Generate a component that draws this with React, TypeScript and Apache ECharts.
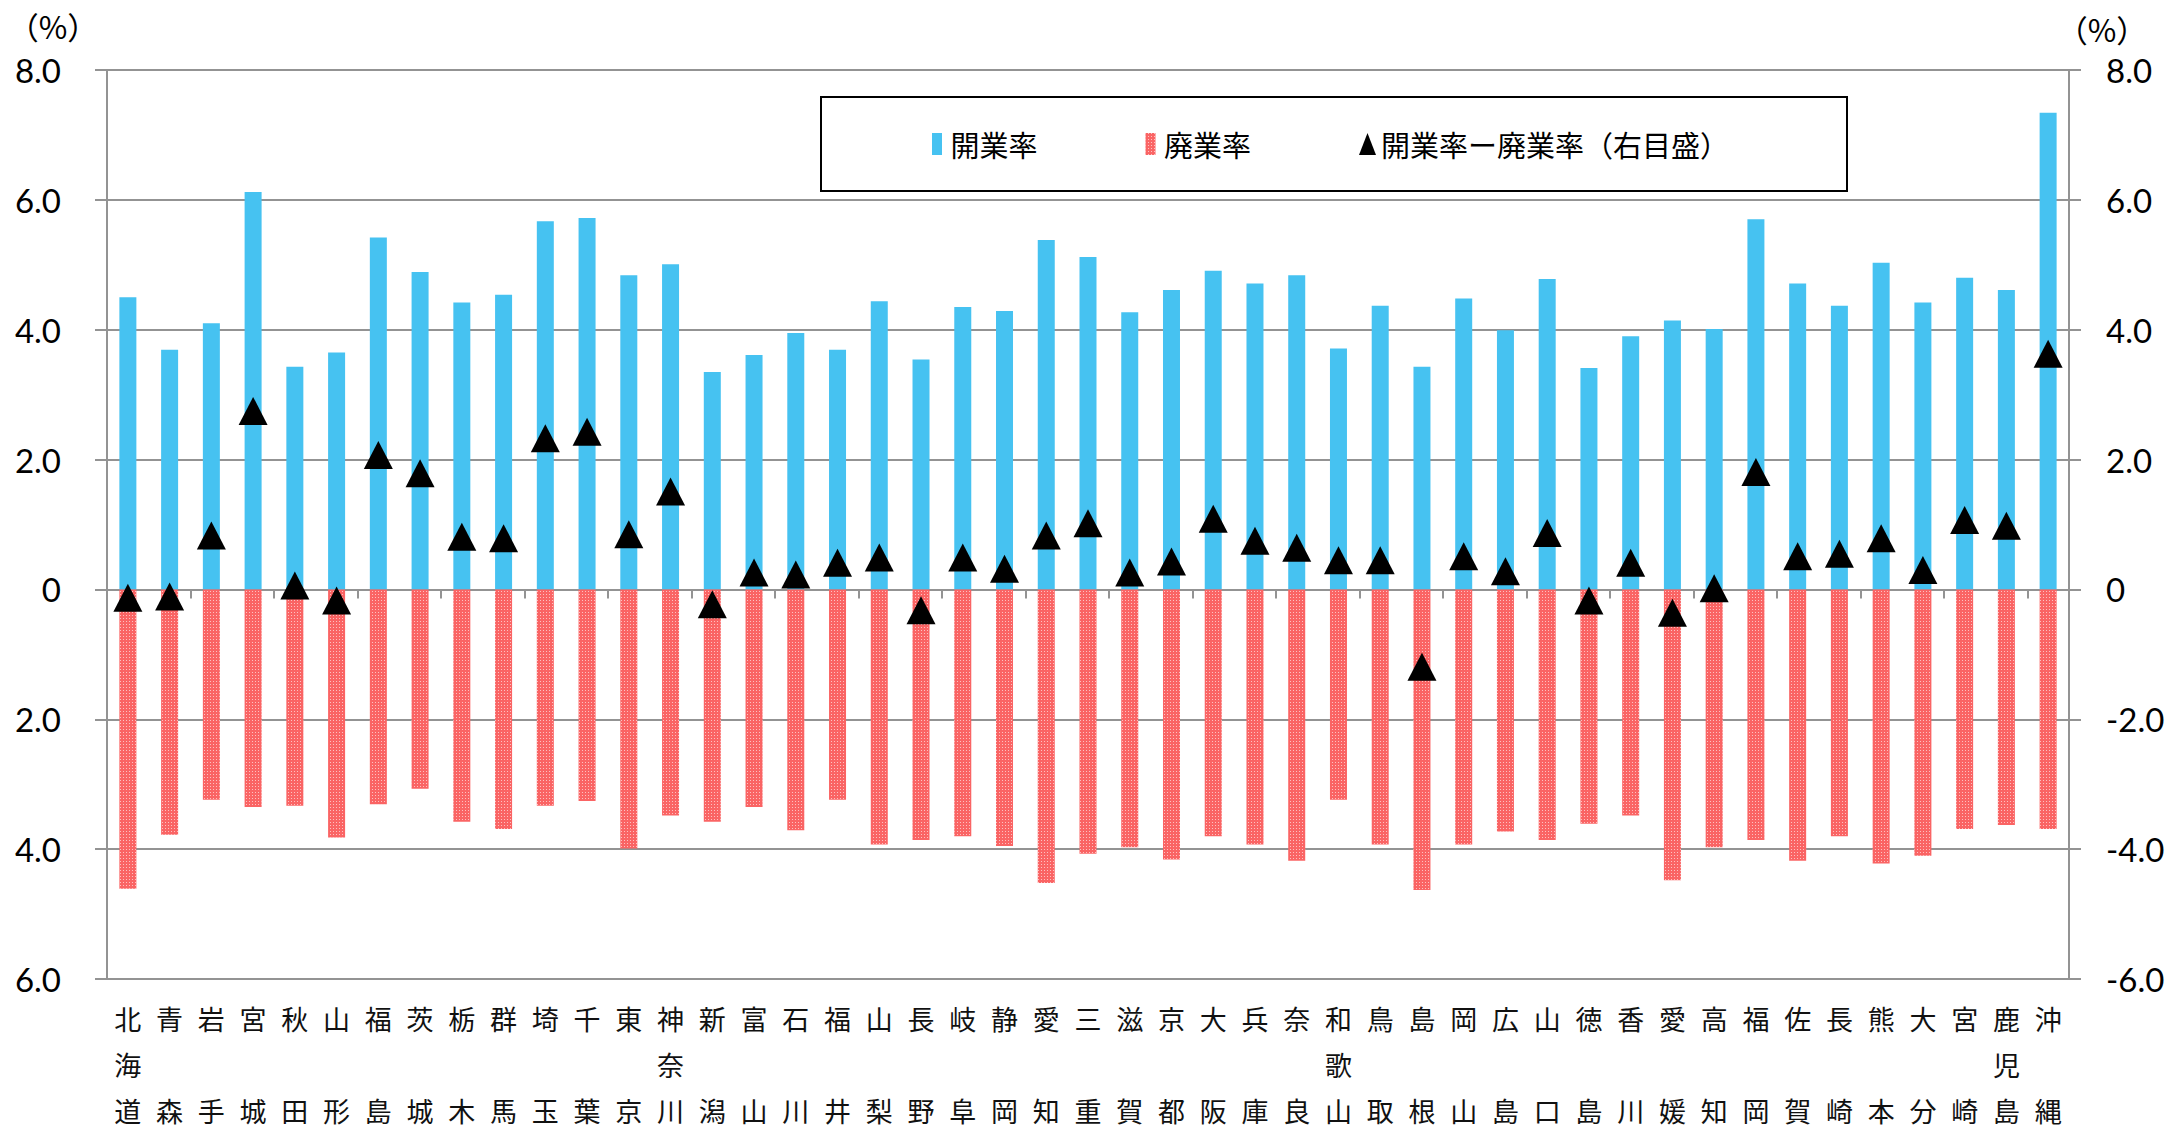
import React, { useEffect, useRef } from "react";
import * as echarts from "echarts";

const prefectures = ['北海道','青森','岩手','宮城','秋田','山形','福島','茨城','栃木','群馬','埼玉','千葉','東京','神奈川','新潟','富山','石川','福井','山梨','長野','岐阜','静岡','愛知','三重','滋賀','京都','大阪','兵庫','奈良','和歌山','鳥取','島根','岡山','広島','山口','徳島','香川','愛媛','高知','福岡','佐賀','長崎','熊本','大分','宮崎','鹿児島','沖縄'];

const openingRate = [4.50,3.69,4.10,6.12,3.43,3.65,5.42,4.89,4.42,4.54,5.67,5.72,4.84,5.01,3.35,3.61,3.95,3.69,4.44,3.54,4.35,4.29,5.38,5.12,4.27,4.61,4.91,4.71,4.84,3.71,4.37,3.43,4.48,3.99,4.78,3.41,3.90,4.14,4.01,5.70,4.71,4.37,5.03,4.42,4.80,4.61,7.34];

const closureRate = [4.61,3.78,3.24,3.35,3.33,3.82,3.31,3.07,3.58,3.69,3.33,3.26,3.99,3.48,3.58,3.35,3.71,3.24,3.93,3.86,3.80,3.95,4.52,4.07,3.97,4.16,3.80,3.93,4.18,3.24,3.93,4.63,3.93,3.73,3.86,3.61,3.48,4.48,3.97,3.86,4.18,3.80,4.22,4.10,3.69,3.63,3.69];

const netRate = [-0.13,-0.11,0.83,2.75,0.06,-0.17,2.07,1.79,0.81,0.79,2.33,2.43,0.85,1.51,-0.23,0.26,0.23,0.41,0.49,-0.32,0.49,0.32,0.83,1.02,0.26,0.43,1.09,0.75,0.64,0.45,0.45,-1.19,0.51,0.28,0.87,-0.17,0.41,-0.36,0.02,1.81,0.51,0.55,0.79,0.30,1.07,0.98,3.63];

const seriesNames = ['開業率', '廃業率', '開業率ー廃業率（右目盛）'];

const GRID_COLOR = '#939393';
const NUM_FONT = 'Lato';
const CJK_FONT = '"Noto Sans CJK JP"';

function stackLabel(name: string): string {
  if (name.length >= 3) return name.split('').join('\n');
  return name[0] + '\n\n' + name[1];
}

export default function App() {
  const ref = useRef<HTMLDivElement>(null);
  useEffect(() => {
    if (!ref.current) return;
    const chart = echarts.init(ref.current, null, { renderer: 'svg' });
    const option: any = {
      animation: false,
      backgroundColor: '#ffffff',
      grid: { left: 107, right: 105, top: 70, bottom: 149, containLabel: false, outerBoundsMode: 'none' },
      legend: {
        left: 932,
        top: 128,
        padding: 0,
        itemGap: 108,
        itemWidth: 17,
        itemHeight: 22,
        symbolKeepAspect: true,
        textStyle: { fontFamily: CJK_FONT, fontSize: 29, color: '#000', lineHeight: 32 },
        data: [
          { name: seriesNames[0], icon: 'path://M0,0h10v22h-10z' },
          { name: seriesNames[1], icon: 'path://M0,0h10v22h-10z' },
          { name: seriesNames[2], icon: 'path://M8.5,0L17,22H0Z' },
        ],
      },
      graphic: [
        { type: 'rect', z: 1, shape: { x: 821, y: 97, width: 1026, height: 94 }, style: { fill: '#ffffff', stroke: '#000', lineWidth: 2 } },
        { type: 'text', x: 53, y: 25, style: { text: '（%）', fontFamily: CJK_FONT, fontSize: 31, fill: '#000', align: 'center', verticalAlign: 'middle' } },
        { type: 'text', x: 2102, y: 28, style: { text: '（%）', fontFamily: CJK_FONT, fontSize: 31, fill: '#000', align: 'center', verticalAlign: 'middle' } },
      ],
      xAxis: [
        {
          type: 'category',
          data: prefectures,
          position: 'bottom',
          axisLine: { show: false, onZero: false },
          axisTick: { show: false },
          splitLine: { show: false },
          axisLabel: {
            interval: 0,
            margin: 16,
            fontFamily: CJK_FONT,
            fontSize: 27,
            lineHeight: 46,
            color: '#111',
            formatter: (v: string) => stackLabel(v),
          },
        },
        {
          type: 'category',
          data: prefectures,
          position: 'top',
          axisLine: { show: true, onZero: true, lineStyle: { color: GRID_COLOR, width: 2 } },
          axisTick: { show: true, inside: true, length: 9, lineStyle: { color: GRID_COLOR, width: 2 } },
          axisLabel: { show: false },
          splitLine: { show: false },
        },
      ],
      yAxis: [
        {
          type: 'value',
          min: -6,
          max: 8,
          interval: 2,
          position: 'left',
          axisLine: { show: true, lineStyle: { color: GRID_COLOR, width: 2 } },
          axisTick: { show: true, length: 12, lineStyle: { color: GRID_COLOR, width: 2 } },
          splitLine: { show: true, lineStyle: { color: GRID_COLOR, width: 2 } },
          axisLabel: {
            margin: 46,
            fontFamily: NUM_FONT,
            fontSize: 33,
            color: '#000',
            formatter: (v: number) => (v === 0 ? '0' : Math.abs(v).toFixed(1)),
          },
        },
        {
          type: 'value',
          min: -6,
          max: 8,
          interval: 2,
          position: 'right',
          axisLine: { show: true, lineStyle: { color: GRID_COLOR, width: 2 } },
          axisTick: { show: true, length: 12, lineStyle: { color: GRID_COLOR, width: 2 } },
          splitLine: { show: false },
          axisLabel: {
            margin: 37,
            fontFamily: NUM_FONT,
            fontSize: 33,
            color: '#000',
            formatter: (v: number) => (v === 0 ? '0' : v.toFixed(1)),
          },
        },
      ],
      series: [
        {
          name: seriesNames[0],
          type: 'bar',
          xAxisIndex: 0,
          yAxisIndex: 0,
          barWidth: 17,
          barGap: '-100%',
          itemStyle: { color: '#46C2F1' },
          data: openingRate,
          z: 2,
        },
        {
          name: seriesNames[1],
          type: 'bar',
          xAxisIndex: 0,
          yAxisIndex: 0,
          barWidth: 17,
          barGap: '-100%',
          itemStyle: {
            color: '#FA6464',
            decal: {
              symbol: 'rect',
              symbolSize: 1,
              color: 'rgba(255,255,255,0.6)',
              dashArrayX: [[1, 2]],
              dashArrayY: [1, 2],
              rotation: 0,
            },
          },
          data: closureRate.map((v) => -v),
          z: 2,
        },
        {
          name: seriesNames[2],
          type: 'scatter',
          xAxisIndex: 0,
          yAxisIndex: 1,
          symbol: 'triangle',
          symbolSize: [29, 28],
          itemStyle: { color: '#000', opacity: 1 },
          data: netRate,
          z: 5,
        },
      ],
    };
    chart.setOption(option);
    return () => chart.dispose();
  }, []);
  return (
    <div
      ref={ref}
      style={{ position: 'absolute', left: 0, top: 0, width: 2174, height: 1128, background: '#fff' }}
    />
  );
}
